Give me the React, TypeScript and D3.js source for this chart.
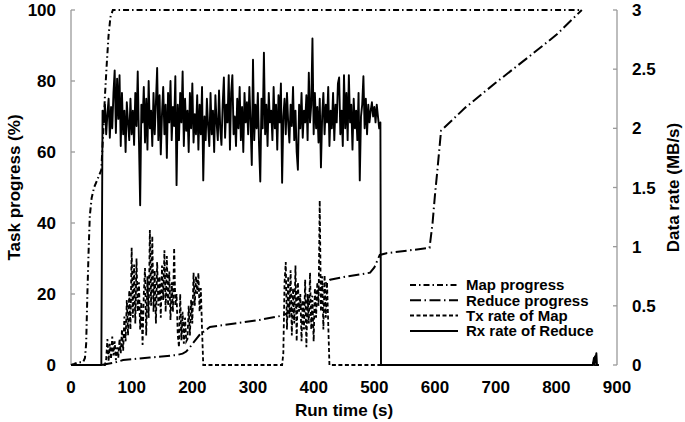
import * as d3 from "d3";
import React from "react";

// progress curves, [time s, percent]
const mapProgress: [number, number][] = [
  [0, 0], [5, 0.3], [12, 0.8], [20, 0.8], [23, 2], [25, 6], [27, 20], [29, 32],
  [31, 42], [34, 47], [38, 50], [43, 52], [50, 55], [53, 65], [56, 76], [59, 85],
  [62, 93], [65, 98], [69, 100], [842, 100]
];

const reduceProgress: [number, number][] = [
  [50, 0], [70, 0.6], [86, 1.4], [130, 2.1], [174, 2.8], [184, 3.2], [190, 3.8],
  [196, 5], [205, 7], [212, 8.5], [218, 9.3], [229, 10.7], [270, 11.7], [311, 12.7],
  [345, 13.8], [350, 14], [390, 18], [420, 23], [427, 24], [450, 24.8], [480, 25.6],
  [493, 26], [500, 27.5], [509, 31], [520, 31.5], [591, 33], [596, 40], [600, 48],
  [604, 55], [610, 66], [650, 72.5], [700, 79.5], [756, 87], [800, 93], [842, 100]
];

// Tx rate of Map (MB/s), sampled every 2 s inside the two bursts
const txStep = 2;
const txBurst1Start = 58;
const txBurst1 = [
  0.05, 0.22, 0.03, 0.18, 0.05, 0.24, 0.08, 0.2, 0.04, 0.15,
  0.06, 0.22, 0.1, 0.3, 0.12, 0.41, 0.2, 0.55, 0.25, 0.63,
  0.3, 0.99, 0.4, 0.85, 0.35, 0.9, 0.45, 0.7, 0.3, 0.53,
  0.17, 0.6, 0.82, 0.25, 0.75, 0.4, 1.14, 0.5, 1.09, 0.45,
  0.8, 0.35, 0.87, 0.5, 0.75, 0.4, 0.84, 0.55, 0.97, 0.45,
  0.92, 0.5, 0.79, 0.38, 0.7, 0.45, 0.99, 0.5, 0.6, 0.25,
  0.15, 0.6, 0.21, 0.45, 0.18, 0.4, 0.2, 0.22, 0.5, 0.25,
  0.55, 0.35, 0.78, 0.5, 0.75, 0.6, 0.78, 0.45, 0.65, 0.3,
  0
];
const txBurst2Start = 350;
const txBurst2 = [
  0.1, 0.7, 0.87, 0.3, 0.75, 0.4, 0.8, 0.25, 0.65, 0.35,
  0.84, 0.2, 0.7, 0.45, 0.6, 0.2, 0.55, 0.3, 0.72, 0.15,
  0.6, 0.35, 0.78, 0.3, 0.55, 0.2, 0.65, 0.4, 0.7, 0.5,
  1.39, 0.45, 0.75, 0.3, 0.76, 0.4, 0.7, 0.35, 0
];
const txIdle: [number, number][] = [[0, 0], [56, 0], [348, 0], [860, 0], [864, 0.08], [865, 0], [870, 0]];

// Rx rate of Reduce (MB/s), sampled every 2 s while shuffling
const rxStep = 2;
const rxStart = 52;
const rxValues = [
  2.15, 2.05, 2.2, 1.95, 2.12, 2.25, 1.92, 2.18, 2.0, 2.3,
  2.49, 1.96, 2.42, 2.08, 2.45, 1.85, 2.3, 1.95, 2.15, 1.8,
  2.22, 2.05, 1.9, 2.25, 1.95, 2.15, 1.86, 2.3, 2.02, 2.48,
  1.9, 1.35, 2.2, 2.05, 2.35, 1.88, 2.25, 1.82, 2.4, 2.0,
  2.15, 1.85, 2.3, 1.95, 2.22, 2.51, 1.9, 2.28, 1.78, 2.12,
  2.35, 1.95, 2.2, 1.75, 2.3, 2.05, 2.4, 1.9, 2.18, 2.02,
  2.44, 1.52, 2.2, 1.9, 2.3, 2.05, 2.48, 1.85, 2.25, 1.98,
  2.15, 1.8, 2.3, 2.0, 2.38, 1.88, 2.12, 1.95, 2.28, 1.82,
  2.2, 1.95, 2.35, 1.56, 2.1, 1.9, 2.25, 2.02, 1.85, 2.3,
  1.95, 2.15, 1.8, 2.28, 2.05, 1.9, 2.32, 2.0, 1.86, 2.2,
  2.43, 1.92, 2.2, 2.05, 2.45, 1.82, 2.3, 2.45, 1.95, 2.1,
  1.85, 2.25, 2.0, 2.35, 1.9, 2.18, 1.8, 2.3, 2.05, 2.22,
  1.95, 2.35, 2.05, 1.69, 2.58, 1.9, 2.2, 2.0, 2.3, 1.85,
  1.55, 2.25, 2.0, 2.64, 1.95, 2.2, 1.85, 2.3, 2.05, 2.15,
  1.9, 2.35, 2.0, 2.2, 1.82, 2.28, 2.05, 2.38, 1.54, 2.1,
  2.25, 1.95, 2.3, 2.05, 1.88, 2.2, 2.02, 2.35, 1.9, 2.15,
  1.8, 1.65, 2.2, 2.0, 2.3, 1.92, 2.15, 2.05, 2.28, 1.9,
  2.47, 2.05, 2.2, 2.76, 1.95, 2.3, 2.0, 2.18, 1.88, 2.25,
  1.67, 2.1, 2.3, 1.95, 2.2, 2.05, 2.35, 1.85, 2.15, 2.0,
  2.3, 1.9, 2.2, 2.05, 2.38, 2.43, 1.95, 2.15, 1.85, 2.45,
  2.0, 2.3, 1.9, 2.45, 2.05, 2.2, 1.82, 2.25, 2.0, 2.15,
  1.9, 2.3, 1.56, 2.1, 2.2, 2.44, 2.0, 2.25, 1.95, 2.2,
  2.05, 2.15, 2.22, 2.1, 2.18, 2.05, 2.2, 2.1, 2.0, 2.05
];
const rxIdleBefore: [number, number][] = [[0, 0], [50, 0]];
const rxIdleAfter: [number, number][] = [[511, 0], [860, 0], [862, 0.06], [863, 0], [866, 0.1], [867, 0], [870, 0]];

const xTicks = [0, 100, 200, 300, 400, 500, 600, 700, 800, 900];
const leftTicks = [0, 20, 40, 60, 80, 100];
const rightTicks = [0, 0.5, 1, 1.5, 2, 2.5, 3];

const legendItems = [
  { label: "Map progress", dash: "6,3,1.5,3" },
  { label: "Reduce progress", dash: "11,3.5,1.5,3.5" },
  { label: "Tx rate of Map", dash: "4,2.5" },
  { label: "Rx rate of Reduce", dash: "none" }
];

const W = 685;
const H = 422;
const left = 71;
const right = 617;
const top = 10;
const bottom = 365;
const font = "'Liberation Sans', Arial, Helvetica, sans-serif";

export default function App() {
  const x = d3.scaleLinear().domain([0, 900]).range([left, right]);
  const yL = d3.scaleLinear().domain([0, 100]).range([bottom, top]);
  const yR = d3.scaleLinear().domain([0, 3]).range([bottom, top]);

  const lineL = d3.line<[number, number]>().x(d => x(d[0])).y(d => yL(d[1]));
  const lineR = d3.line<[number, number]>().x(d => x(d[0])).y(d => yR(d[1]));

  const tx: [number, number][] = [
    ...txIdle.slice(0, 2),
    ...txBurst1.map((v, i) => [txBurst1Start + i * txStep, v] as [number, number]),
    txIdle[2],
    ...txBurst2.map((v, i) => [txBurst2Start + i * txStep, v] as [number, number]),
    ...txIdle.slice(3)
  ];
  const rx: [number, number][] = [
    ...rxIdleBefore,
    ...rxValues.map((v, i) => [rxStart + i * rxStep, v] as [number, number]),
    ...rxIdleAfter
  ];

  const axisColor = "#9a9a9a";
  const legX = 410;
  const legY = 285;
  const legDy = 15.3;

  return (
    <svg width={W} height={H} style={{ position: "absolute", left: 0, top: 0, background: "#fff" }}
      fontFamily={font} fontWeight="bold">
      {/* axes */}
      <line x1={left} x2={left} y1={top} y2={bottom} stroke={axisColor} strokeWidth={1.3} />
      {leftTicks.map(t => (
        <g key={"l" + t}>
          <line x1={left} x2={left + 4} y1={yL(t)} y2={yL(t)} stroke={axisColor} strokeWidth={1.3} />
          <text x={56} y={yL(t)} dy="0.36em" textAnchor="end" fontSize={17}>{t}</text>
        </g>
      ))}
      <line x1={right} x2={right} y1={top} y2={bottom} stroke={axisColor} strokeWidth={1.3} />
      {rightTicks.map(t => (
        <g key={"r" + t}>
          <line x1={right - 4} x2={right} y1={yR(t)} y2={yR(t)} stroke={axisColor} strokeWidth={1.3} />
          <text x={632} y={yR(t)} dy="0.36em" textAnchor="start" fontSize={17}>{t}</text>
        </g>
      ))}
      {xTicks.map(t => (
        <text key={"x" + t} x={x(t)} y={393} textAnchor="middle" fontSize={17}>{t}</text>
      ))}
      <text x={(left + right) / 2} y={416} textAnchor="middle" fontSize={17}>Run time (s)</text>
      <text transform={`translate(20,${(top + bottom) / 2}) rotate(-90)`} textAnchor="middle" fontSize={17}>
        Task progress (%)
      </text>
      <text transform={`translate(679,${(top + bottom) / 2}) rotate(-90)`} textAnchor="middle" fontSize={17}>
        Data rate (MB/s)
      </text>

      {/* series */}
      <path d={lineR(rx) ?? ""} fill="none" stroke="#000" strokeWidth={1.9} strokeLinejoin="round" />
      <path d={lineR(tx) ?? ""} fill="none" stroke="#000" strokeWidth={1.8} strokeDasharray="4,2.5" />
      <path d={lineL(reduceProgress) ?? ""} fill="none" stroke="#000" strokeWidth={2} strokeDasharray="11,3.5,1.5,3.5" />
      <path d={lineL(mapProgress) ?? ""} fill="none" stroke="#000" strokeWidth={2} strokeDasharray="6,3,1.5,3" />

      {/* legend */}
      {legendItems.map((it, i) => (
        <g key={it.label} transform={`translate(${legX},${legY + i * legDy})`}>
          <line x1={0} x2={48} y1={0} y2={0} stroke="#000" strokeWidth={2}
            strokeDasharray={it.dash === "none" ? undefined : it.dash} />
          <text x={56} y={0} dy="0.36em" fontSize={15}>{it.label}</text>
        </g>
      ))}
    </svg>
  );
}
